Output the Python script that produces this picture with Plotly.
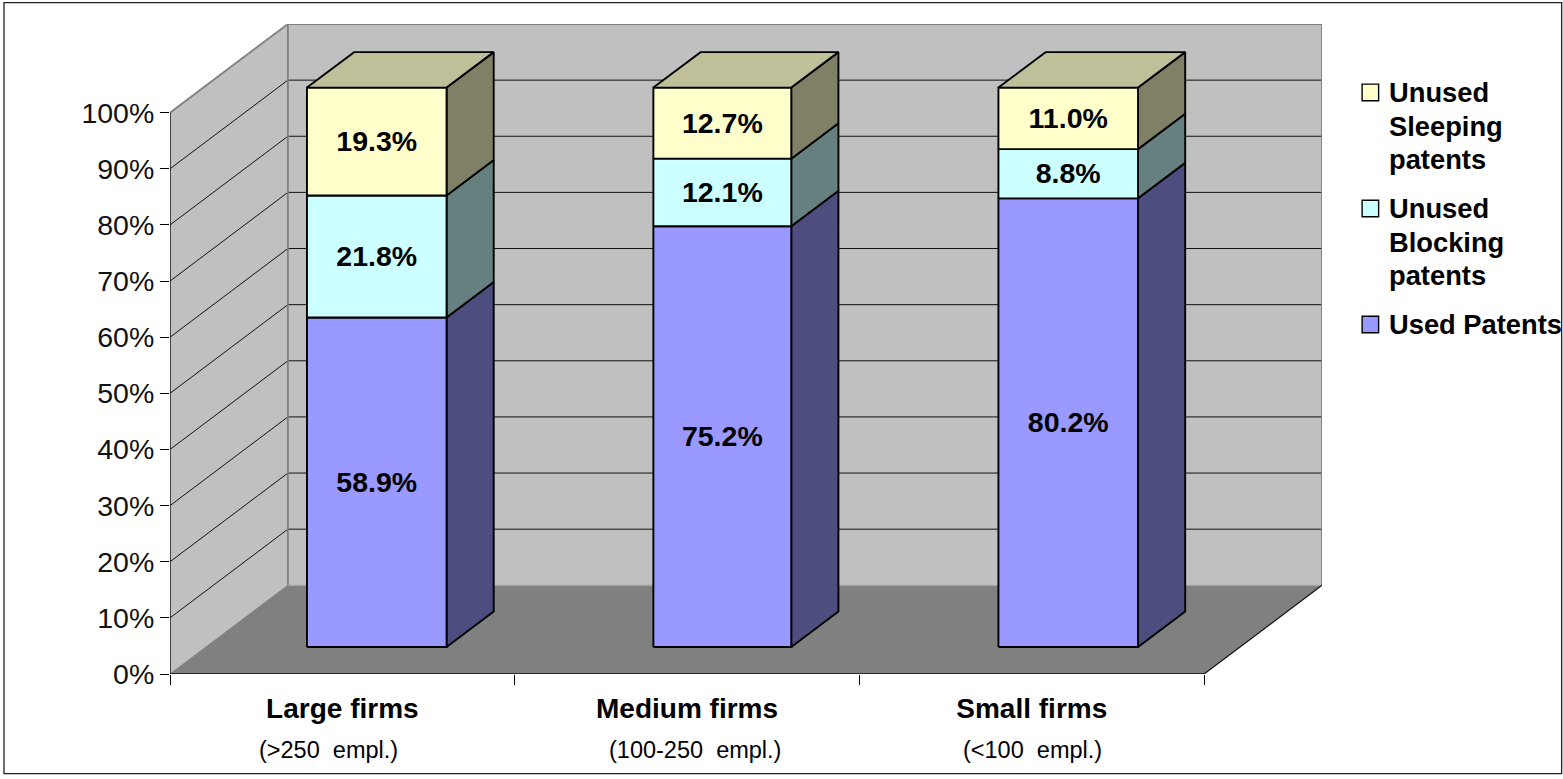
import plotly.graph_objects as go

# ---- data ----
categories = ["Large firms", "Medium firms", "Small firms"]
sub_labels = ["(>250&nbsp;&nbsp;empl.)", "(100-250&nbsp;&nbsp;empl.)", "(<100&nbsp;&nbsp;empl.)"]
used = [58.9, 75.2, 80.2]
blocking = [21.8, 12.1, 8.8]
sleeping = [19.3, 12.7, 11.0]
y_ticks = [0, 10, 20, 30, 40, 50, 60, 70, 80, 90, 100]
y_labels = ["0%", "10%", "20%", "30%", "40%", "50%", "60%", "70%", "80%", "90%", "100%"]
legend_sleeping = ["Unused", "Sleeping", "patents"]
legend_blocking = ["Unused", "Blocking", "patents"]
legend_used = ["Used Patents"]

# ---- 3-D projection, in axis units ----
DX, DY = 0.342, 15.8          # full depth of the box
BAR_START = 0.305             # bar front plane, as a share of the box depth
BAR_DEPTH = 0.40              # bar depth, as a share of the box depth
BAR_OFFSET = [0.293, 1.298, 2.299]
BAR_WIDTH = [0.405, 0.400, 0.405]
BAR_SCALE = 0.9965
LABEL_NUDGE = -0.45

WALL = "#C0C0C0"
FLOOR = "#808080"
EDGE = "#808080"
FONT = "Liberation Sans"

series = [
    (used, "#9999FF", "#4D4D80"),
    (blocking, "#CCFFFF", "#668080"),
    (sleeping, "#FFFFCC", "#808066"),
]
TOP_COLOR = "#BFBF99"

fig = go.Figure()


def poly(xs, ys, fill, line="rgba(0,0,0,0)", width=0.0):
    fig.add_trace(go.Scatter(
        x=xs, y=ys, mode="lines", fill="toself", fillcolor=fill,
        line=dict(color=line, width=width), showlegend=False,
        hoverinfo="skip", cliponaxis=False))


def stroke(xs, ys, color, width):
    fig.add_trace(go.Scatter(
        x=xs, y=ys, mode="lines", line=dict(color=color, width=width),
        showlegend=False, hoverinfo="skip", cliponaxis=False))


# walls and floor
poly([DX, 3 + DX, 3 + DX, DX, DX], [DY, DY, 100 + DY, 100 + DY, DY], WALL)
poly([0, DX, DX, 0, 0], [0, DY, 100 + DY, 100, 0], WALL)
poly([0, 3, 3 + DX, DX, 0], [0, 0, DY, DY, 0], FLOOR)

# gridlines
for v in y_ticks[1:-1]:
    stroke([0, DX, 3 + DX], [v, v + DY, v + DY], "#111111", 1.0)

# wall edges
stroke([0, DX, 3 + DX, 3 + DX], [100, 100 + DY, 100 + DY, DY], EDGE, 1.8)
stroke([DX, DX], [DY, 100 + DY], EDGE, 1.8)
stroke([DX, 3 + DX], [DY, DY], "#A6A6A6", 1.2)
stroke([0, DX], [0, DY], EDGE, 1.0)
stroke([3, 3 + DX], [0, DY], "#111111", 1.2)

# axis lines
stroke([0, 0], [0, 100], "#111111", 1.4)
stroke([0, 3], [0, 0], "#111111", 1.4)

# bars
base_x = DX * BAR_START
base_y = DY * BAR_START
bar_dx = DX * BAR_DEPTH
bar_dy = DY * BAR_DEPTH
for i in range(len(categories)):
    x0 = BAR_OFFSET[i] + base_x
    x1 = x0 + BAR_WIDTH[i]
    bottom = 0.0
    for values, front, side in series:
        top = bottom + values[i]
        y0 = base_y + bottom * BAR_SCALE
        y1 = base_y + top * BAR_SCALE
        poly([x1, x1 + bar_dx, x1 + bar_dx, x1, x1],
             [y0, y0 + bar_dy, y1 + bar_dy, y1, y0], side, "black", 1.9)
        poly([x0, x1, x1, x0, x0], [y0, y0, y1, y1, y0], front, "black", 1.9)
        bottom = top
    y1 = base_y + bottom * BAR_SCALE
    poly([x0, x1, x1 + bar_dx, x0 + bar_dx, x0],
         [y1, y1, y1 + bar_dy, y1 + bar_dy, y1], TOP_COLOR, "black", 1.9)

# data labels
bottoms = [0.0] * len(categories)
for values, _front, _side in series:
    xs, ys, txt = [], [], []
    for i, v in enumerate(values):
        xs.append(BAR_OFFSET[i] + base_x + BAR_WIDTH[i] / 2)
        ys.append(base_y + (bottoms[i] + v / 2) * BAR_SCALE + LABEL_NUDGE)
        txt.append(f"{v:.1f}%")
        bottoms[i] += v
    fig.add_trace(go.Scatter(
        x=xs, y=ys, text=txt, mode="text", textposition="middle center",
        textfont=dict(family=FONT, size=28.5, color="black", weight="bold"),
        showlegend=False, hoverinfo="skip", cliponaxis=False))

W, H = 1563, 779
X_UNIT, Y_UNIT = 344.67, 5.61
L, B = 170, 674
R = L + (3 + DX) * X_UNIT
T = B - (100 + DY) * Y_UNIT


def px(x):
    return (x - L) / (R - L)


def py(y):
    return (B - y) / (B - T)


annotations = [
    dict(x=px(c), y=py(750), xref="paper", yref="paper", text=t, showarrow=False,
         xanchor="center", yanchor="middle",
         font=dict(family=FONT, size=23.5, color="black"))
    for t, c in zip(sub_labels, [328, 695, 1032])
]

# legend: swatch beside the first line of each entry
shapes = [dict(type="rect", xref="paper", yref="paper", x0=px(4), x1=px(1561.5),
               y0=py(3), y1=py(773.5), line=dict(color="#222222", width=1.3),
               layer="below")]
legend_rows = [
    (legend_sleeping, series[2][1], [93, 127, 160]),
    (legend_blocking, series[1][1], [209, 243, 276]),
    (legend_used, series[0][1], [325]),
]
for lines, color, rows in legend_rows:
    shapes.append(dict(type="rect", xref="paper", yref="paper",
                       x0=px(1362), x1=px(1378.5), y0=py(rows[0] - 8.5), y1=py(rows[0] + 8),
                       fillcolor=color, line=dict(color="black", width=1.4), layer="above"))
    for text, row in zip(lines, rows):
        annotations.append(dict(
            x=px(1387), y=py(row), xref="paper", yref="paper", text=f"<b>{text}</b>",
            showarrow=False, xanchor="left", yanchor="middle",
            font=dict(family=FONT, size=27.3, color="black")))

fig.update_layout(
    width=W, height=H,
    margin=dict(l=L, r=W - R, t=T, b=H - B, autoexpand=False),
    paper_bgcolor="white", plot_bgcolor="rgba(0,0,0,0)",
    font=dict(family=FONT, color="black"),
    showlegend=False,
    xaxis=dict(
        range=[0, 3 + DX], tickmode="array", tickvals=[0.5, 1.5, 2.5],
        ticktext=[f"<b>{c}</b>" for c in categories],
        tickfont=dict(family=FONT, size=28, color="black"),
        ticks="", ticklabelstandoff=15, showgrid=False, zeroline=False, showline=False,
        minor=dict(tickmode="array", tickvals=[0, 1, 2, 3], ticks="outside",
                   ticklen=10, tickwidth=1, tickcolor="black", showgrid=False),
    ),
    yaxis=dict(
        range=[0, 100 + DY], tickmode="array", tickvals=y_ticks, ticktext=y_labels,
        tickfont=dict(family=FONT, size=28.5, color="#111111"),
        ticks="outside", ticklen=9, tickwidth=1, tickcolor="black",
        showgrid=False, zeroline=False, showline=False,
    ),
    annotations=annotations,
    shapes=shapes,
)

fig.write_html("out.html", config={"displayModeBar": False},
               post_script="document.body.style.margin='0';")
